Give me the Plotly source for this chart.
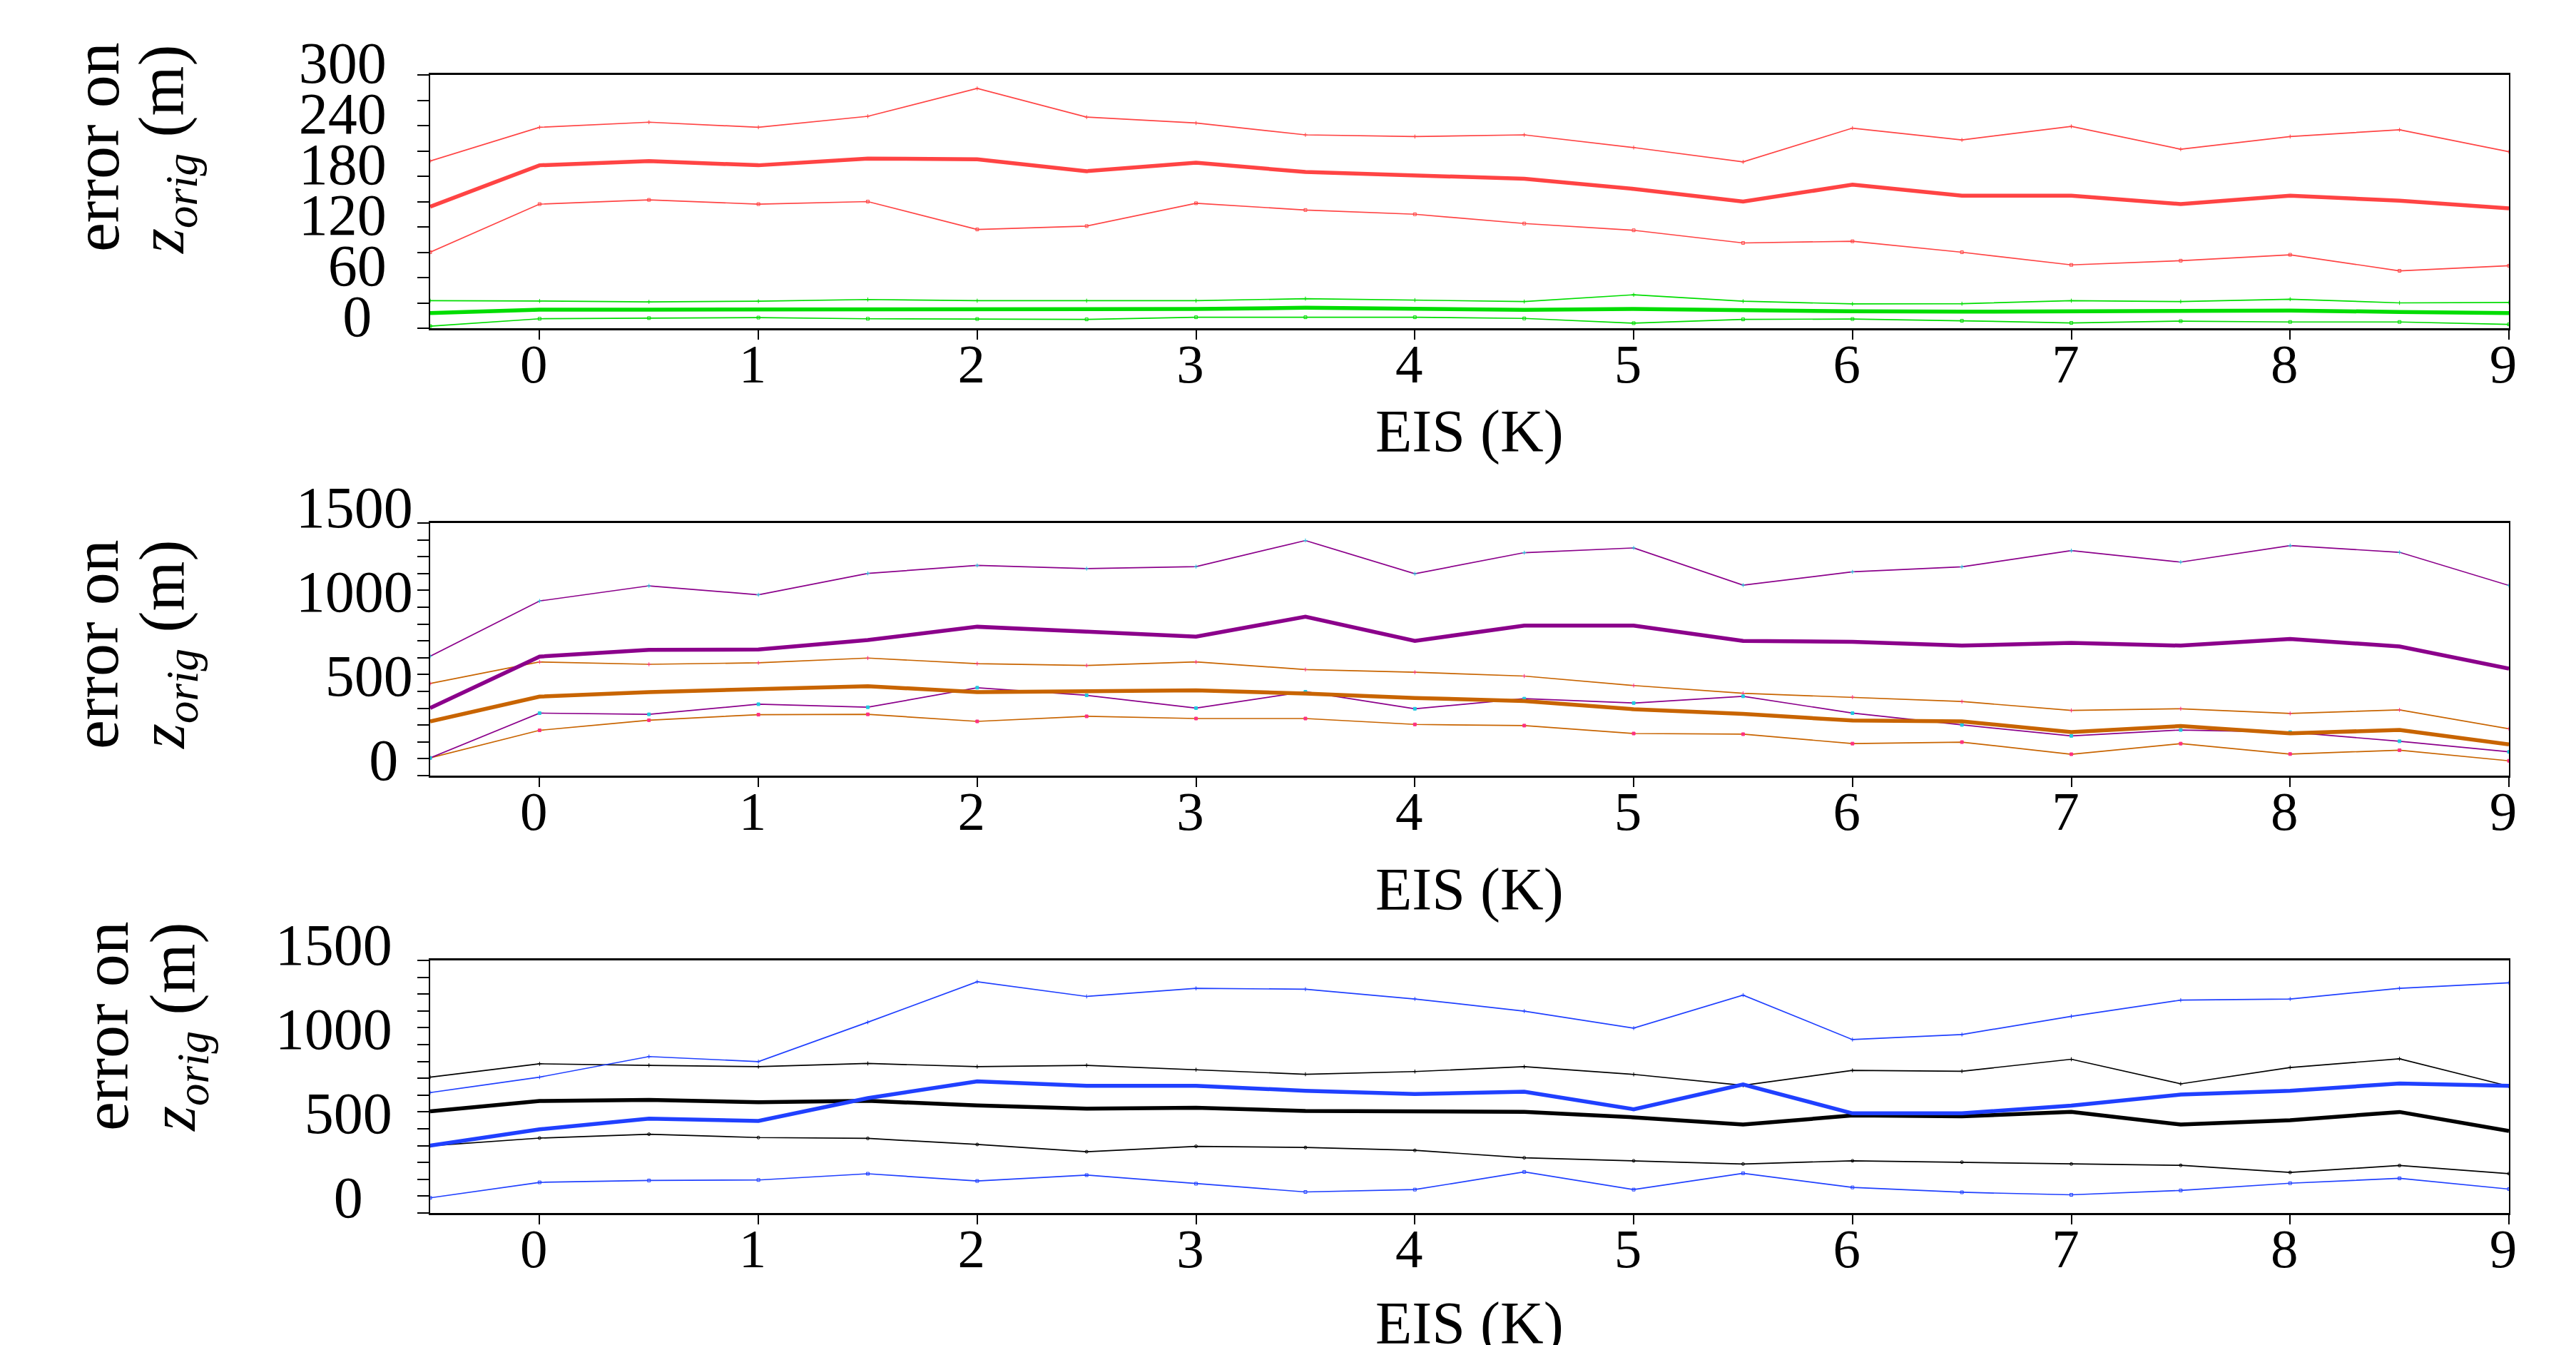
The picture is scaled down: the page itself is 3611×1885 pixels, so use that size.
import plotly.graph_objects as go

# ---------------- data ----------------
eis = [-0.5, 0, 0.5, 1, 1.5, 2, 2.5, 3, 3.5, 4, 4.5, 5, 5.5, 6, 6.5, 7, 7.5, 8, 8.5, 9]
x_tick_vals = [0, 1, 2, 3, 4, 5, 6, 7, 8, 9]
x_tick_text = ["0", "1", "2", "3", "4", "5", "6", "7", "8", "9"]

# panel 1
red_upper = [198, 238, 244, 238, 251, 284, 250, 243, 229, 227, 229, 214, 197, 237, 223, 239, 212, 227, 235, 209]
red_mean = [144, 193, 198, 193, 201, 200, 186, 196, 185, 181, 177, 165, 150, 170, 157, 157, 147, 157, 151, 142]
red_lower = [90, 147, 152, 147, 150, 117, 121, 148, 140, 135, 124, 116, 101, 103, 90, 75, 80, 87, 68, 74]
green_upper = [32.6, 32.3, 31.2, 32, 34, 32.6, 32.6, 32.6, 35, 33.3, 31.6, 39.6, 32, 28.8, 29, 32.6, 31.6, 34.4, 30, 30.5]
green_mean = [17.9, 22, 22, 22, 22.5, 21.8, 21.8, 22.8, 24.2, 23, 21.8, 22.8, 21, 20, 19.6, 20, 20, 21, 19.3, 17.9]
green_lower = [2.5, 11.2, 12, 12.6, 11.2, 10.9, 10.5, 13, 13, 13, 11.6, 6, 10.5, 10.9, 8.8, 6.3, 8.4, 7.4, 7.4, 4.6]

# panel 2
purple_upper = [709, 1037, 1127, 1074, 1201, 1248, 1229, 1241, 1396, 1199, 1324, 1352, 1131, 1210, 1240, 1336, 1268, 1366, 1326, 1129]
purple_mean = [401, 707, 747, 749, 805, 884, 855, 825, 944, 800, 891, 891, 800, 795, 772, 788, 772, 811, 767, 635]
purple_lower = [105, 371, 364, 424, 406, 522, 477, 401, 498, 397, 457, 431, 471, 371, 301, 236, 271, 258, 204, 141]
orange_upper = [547, 675, 661, 670, 698, 665, 654, 675, 630, 614, 591, 535, 489, 466, 440, 387, 397, 369, 390, 278]
orange_mean = [322, 469, 496, 513, 531, 496, 503, 506, 487, 461, 443, 394, 366, 327, 322, 258, 294, 251, 271, 185]
orange_lower = [105, 269, 329, 362, 364, 322, 352, 339, 339, 304, 297, 250, 246, 190, 199, 127, 190, 128, 151, 88]

# panel 3
blue_upper = [715, 807, 929, 899, 1133, 1373, 1286, 1334, 1329, 1271, 1199, 1098, 1294, 1030, 1060, 1168, 1264, 1271, 1334, 1367]
blue_mean = [400, 497, 560, 547, 682, 782, 755, 755, 726, 707, 720, 616, 763, 592, 592, 638, 703, 726, 769, 755]
blue_lower = [90, 182, 193, 196, 233, 190, 225, 174, 125, 139, 244, 139, 236, 152, 123, 108, 134, 177, 206, 142]
black_upper = [807, 886, 877, 869, 888, 869, 877, 851, 824, 840, 869, 823, 758, 847, 842, 913, 767, 864, 916, 753]
black_mean = [604, 665, 672, 658, 666, 639, 620, 625, 606, 606, 601, 568, 525, 579, 574, 601, 525, 551, 600, 487]
black_lower = [399, 445, 468, 448, 443, 407, 364, 396, 389, 372, 328, 310, 291, 310, 302, 291, 283, 241, 282, 234]

p1_tick_vals = [0, 60, 120, 180, 240, 300]
p1_tick_text = ["0&nbsp;", "60", "120", "180", "240", "300"]
p2_tick_vals = [0, 500, 1000, 1500]
p2_tick_text = ["0&nbsp;", "500", "1000", "1500"]
p3_tick_vals = [0, 500, 1000, 1500]
p3_tick_text = ["0&nbsp;&nbsp;", "500", "1000", "1500"]

x_title = "EIS (K)"
y_title_1 = "error on"
y_title_2 = "<i>z</i><sub><i>orig</i></sub> (m)"

# ---------------- styles ----------------
RED = "#FF4444"
GREEN = "#00DD00"
PURPLE = "#8B008B"
ORANGE = "#C86400"
BLUE = "#2040FF"
BLACK = "#000000"
CYAN = "#20C8E0"
PINK = "#FF3080"
FONT = "Liberation Serif"

fig = go.Figure()


def add(y, color, width, axis, marker_color=None, symbol="square-open", msize=4):
    xa, ya = axis
    mode = "lines+markers" if width < 3 else "lines"
    fig.add_trace(go.Scatter(
        x=eis, y=y, mode=mode, xaxis=xa, yaxis=ya,
        line=dict(color=color, width=width),
        marker=dict(color=marker_color or color, size=msize, symbol=symbol,
                    line=dict(color=marker_color or color, width=1)),
        showlegend=False, hoverinfo="skip"))


ax1 = ("x", "y")
ax2 = ("x2", "y2")
ax3 = ("x3", "y3")

add(red_upper, RED, 1.7, ax1, symbol="cross-thin")
add(red_lower, RED, 1.7, ax1, symbol="square-open")
add(red_mean, RED, 5.5, ax1)
add(green_upper, GREEN, 1.7, ax1, symbol="cross-thin")
add(green_lower, GREEN, 1.7, ax1, symbol="square-open")
add(green_mean, GREEN, 5.5, ax1)

add(orange_upper, ORANGE, 1.7, ax2, marker_color=PINK, symbol="cross-thin")
add(orange_lower, ORANGE, 1.7, ax2, marker_color=PINK, symbol="square")
add(purple_upper, PURPLE, 1.7, ax2, marker_color=CYAN, symbol="cross-thin")
add(purple_lower, PURPLE, 1.7, ax2, marker_color=CYAN, symbol="square")
add(purple_mean, PURPLE, 5.5, ax2)
add(orange_mean, ORANGE, 5.5, ax2)

add(black_upper, BLACK, 1.7, ax3, symbol="cross-thin")
add(black_lower, BLACK, 1.7, ax3, symbol="circle-open")
add(blue_upper, BLUE, 1.7, ax3, symbol="cross-thin")
add(blue_lower, BLUE, 1.7, ax3, symbol="square-open")
add(black_mean, BLACK, 5.5, ax3)
add(blue_mean, BLUE, 5.5, ax3)

W, H = 3611, 1885
ML, MR, MT, MB = 603, 94, 105, 185
PW, PH = W - ML - MR, H - MT - MB


def py(px):
    return (H - MB - px) / PH


def pxx(px):
    return (px - ML) / PW


domains = [[py(460), 1.0], [py(1087), py(733)], [0.0, py(1346)]]

xaxis_common = dict(
    range=[-0.5, 9], tickvals=x_tick_vals, ticktext=x_tick_text,
    showline=True, linecolor="black", linewidth=3, mirror=True,
    ticks="outside", ticklen=13, tickwidth=1.5, tickcolor="black",
    showgrid=False, zeroline=False,
    tickfont=dict(family=FONT, size=77, color="black"),
    ticklabelshift=-8, ticklabelstandoff=-32,
)
yaxis_common = dict(
    showline=True, linecolor="black", linewidth=1.5, mirror=True,
    ticks="outside", ticklen=16, tickwidth=2, tickcolor="black",
    showgrid=False, zeroline=False,
    tickfont=dict(family=FONT, size=82, color="black"),
)

layout = dict(
    width=W, height=H, autosize=False,
    margin=dict(l=ML, r=MR, t=MT, b=MB, pad=0),
    paper_bgcolor="white", plot_bgcolor="white",
    showlegend=False,
    font=dict(family=FONT, color="black"),
)
y_specs = [
    dict(range=[0, 300], tickvals=p1_tick_vals, ticktext=p1_tick_text, dtick_minor=30,
         shift=-18, standoff=27),
    dict(range=[0, 1500], tickvals=p2_tick_vals, ticktext=p2_tick_text, dtick_minor=100,
         shift=-23, standoff=-10),
    dict(range=[0, 1500], tickvals=p3_tick_vals, ticktext=p3_tick_text, dtick_minor=100,
         shift=-23, standoff=19),
]
for i, spec in enumerate(y_specs):
    ya_name = "yaxis" if i == 0 else f"yaxis{i+1}"
    xa_name = "xaxis" if i == 0 else f"xaxis{i+1}"
    anchor_y = "y" if i == 0 else f"y{i+1}"
    anchor_x = "x" if i == 0 else f"x{i+1}"
    layout[xa_name] = dict(xaxis_common, domain=[0, 1], anchor=anchor_y)
    layout[ya_name] = dict(yaxis_common, domain=domains[i], anchor=anchor_x,
                           range=spec["range"], tickvals=spec["tickvals"], ticktext=spec["ticktext"],
                           minor=dict(dtick=spec["dtick_minor"], ticks="outside", ticklen=16,
                                      tickwidth=2, tickcolor="black", showgrid=False),
                           ticklabelshift=spec["shift"], ticklabelstandoff=spec["standoff"])

fig.update_layout(**layout)

annotations = []
# x-axis titles
for ypix in [605, 1247, 1855]:
    annotations.append(dict(text=x_title, xref="paper", yref="paper", x=0.5, y=py(ypix),
                            xanchor="center", yanchor="middle", showarrow=False,
                            font=dict(family=FONT, size=84, color="black")))
# y-axis titles (two lines each)
ytitle_pos = [((135, 206), (233, 210)), ((134, 903), (234, 904)), ((148, 1438), (249, 1440))]
for (l1, l2) in ytitle_pos:
    annotations.append(dict(text=y_title_1, xref="paper", yref="paper", x=pxx(l1[0]), y=py(l1[1]),
                            xanchor="center", yanchor="middle", textangle=-90, showarrow=False,
                            font=dict(family=FONT, size=92, color="black")))
    annotations.append(dict(text=y_title_2, xref="paper", yref="paper", x=pxx(l2[0]), y=py(l2[1]),
                            xanchor="center", yanchor="middle", textangle=-90, showarrow=False,
                            font=dict(family=FONT, size=90, color="black")))
fig.update_layout(annotations=annotations)

fig.write_html("out.html")
